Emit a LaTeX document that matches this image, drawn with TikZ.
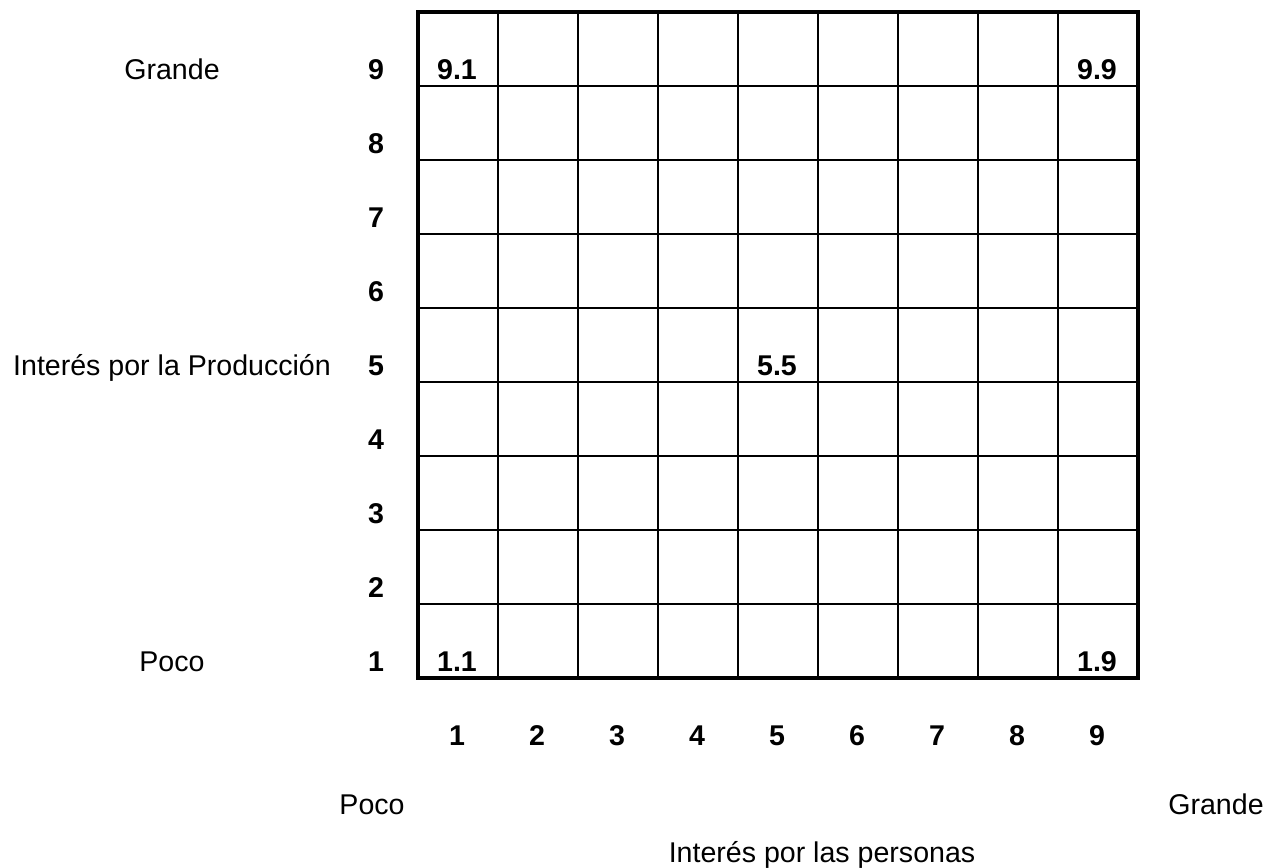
\documentclass[tikz,border=0pt]{standalone}
\usepackage{fontspec}
\setmainfont{Liberation Sans}
\begin{document}
\begin{tikzpicture}[x=0.42pt, y=-0.42pt]
        % Common Styles
        \tikzset{frame/.style={line width=1.3pt}}
        \tikzset{cellline/.style={line width=0.85pt}}
        \tikzset{lbl/.style={anchor=base, inner sep=0pt, font=\fontsize{12}{14}\selectfont}}
        \tikzset{num/.style={lbl, font=\fontsize{12}{14}\selectfont\bfseries}}

        \useasboundingbox (0,0) rectangle (1280,867);

        % 1. Grid
        \foreach \i in {1,...,8} {
            \draw[cellline] ({418+80*\i}, 12) -- ({418+80*\i}, 678);
            \draw[cellline] (418, {12+74*\i}) -- (1138, {12+74*\i});
        }
        \draw[frame] (418,12) rectangle (1138,678);

        % 2. Scale numbers
        \foreach \k in {1,...,9} {
            \node[num] (r\k) at (376, {671-74*(\k-1)}) {\k};
            \node[num] (c\k) at ({377+80*\k}, 745) {\k};
        }

        % 3. Cell values
        \node[num] (m91) at (457, 79) {9.1};
        \node[num] (m99) at (1097, 79) {9.9};
        \node[num] (m55) at (777, 375) {5.5};
        \node[num] (m11) at (457, 671) {1.1};
        \node[num] (m19) at (1097, 671) {1.9};

        % 4. Axis titles
        \node[lbl] (ygrande) at (172, 79) {Grande};
        \node[lbl] (ytitle) at (172, 375) {Interés por la Producción};
        \node[lbl] (ypoco) at (172, 671) {Poco};
        \node[lbl] (xpoco) at (372, 814) {Poco};
        \node[lbl] (xgrande) at (1216, 814) {Grande};
        \node[lbl] (xtitle) at (822, 862) {Interés por las personas};
    \end{tikzpicture}
\end{document}
